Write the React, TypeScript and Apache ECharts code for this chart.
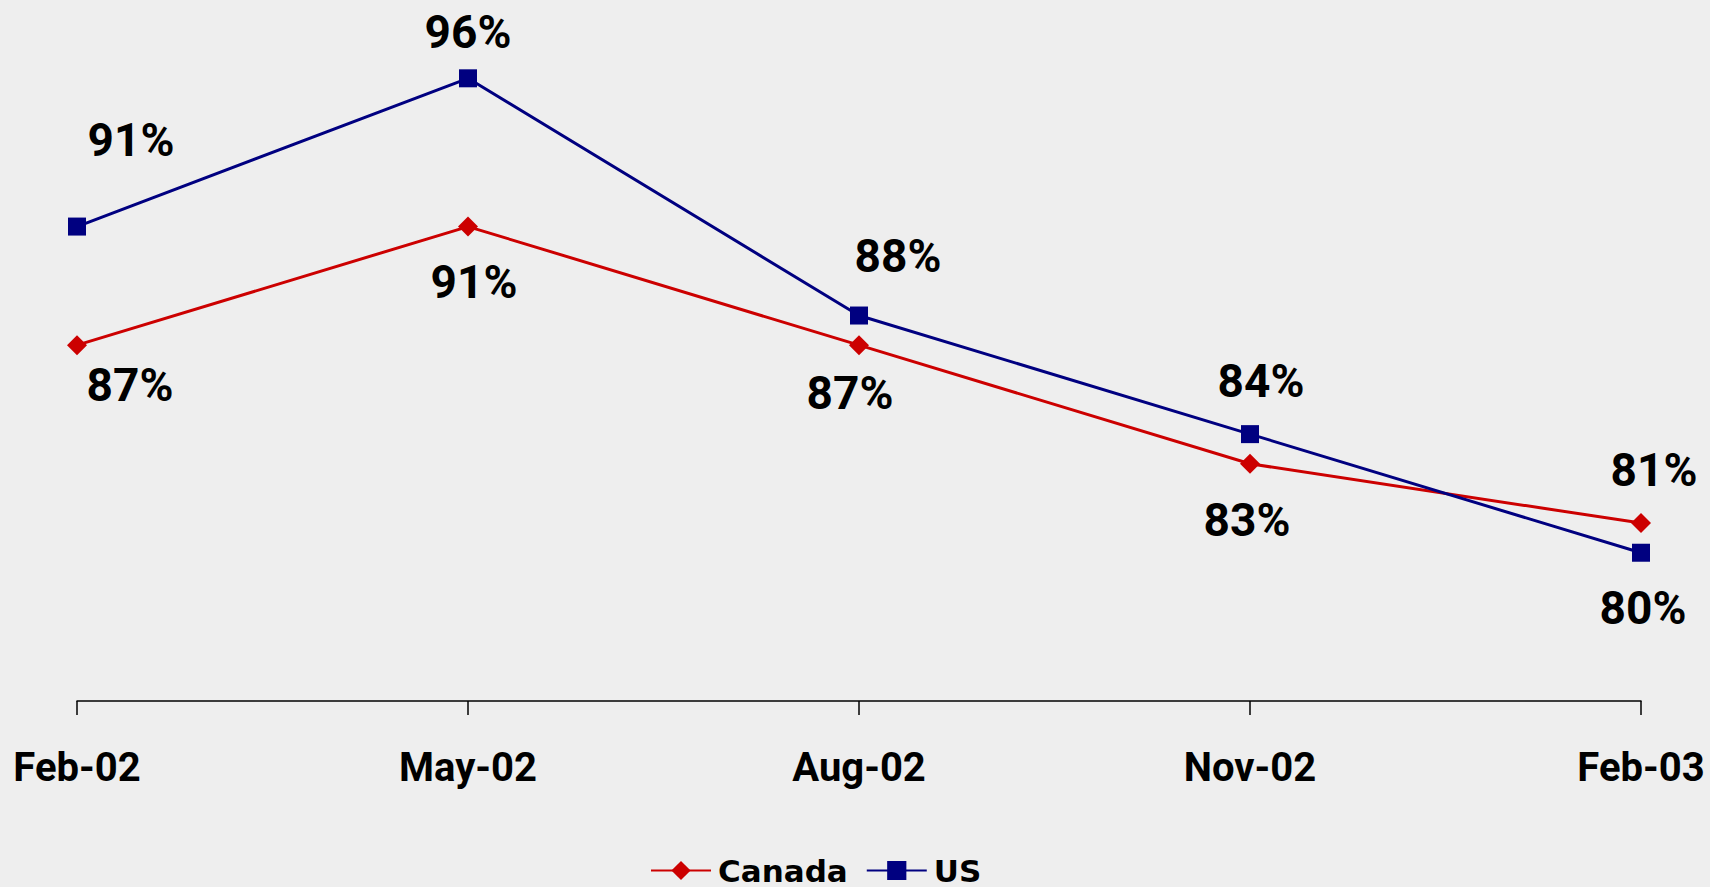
import React, { useEffect, useRef } from "react";
import * as echarts from "echarts";

const categories = ["Feb-02", "May-02", "Aug-02", "Nov-02", "Feb-03"];
const canadaValues = [87, 91, 87, 83, 81];
const usValues = [91, 96, 88, 84, 80];
const yMin = 75;
const yMax = 98;

// label offsets (layout only): [dx, dy] from the point centre
const canadaLabelOffsets = [[53, 40], [6, 55], [-9, 48], [-3, 56], [13, -53]];
const usLabelOffsets = [[54, -87], [0, -46], [39, -60], [11, -53], [2, 55]];

const RED = "#CC0000";
const NAVY = "#000080";
const FONT = "Roboto";

function buildData(values: number[], offsets: number[][]) {
  return values.map((v, i) => ({
    value: v,
    label: { offset: offsets[i] },
  }));
}

export default function App() {
  const ref = useRef<HTMLDivElement>(null);
  useEffect(() => {
    if (!ref.current) return;
    const chart = echarts.init(ref.current, null, { renderer: "svg" });
    const labelStyle = {
      show: true,
      position: "inside",
      formatter: "{c}%",
      color: "#000",
      fontFamily: FONT,
      fontWeight: "bold",
      fontSize: 46,
    };
    chart.setOption({
      animation: false,
      backgroundColor: "#EEEEEE",
      grid: { left: 77, right: 69, top: 19, bottom: 186, containLabel: false },
      xAxis: {
        type: "category",
        data: categories,
        boundaryGap: false,
        axisLine: { show: true, lineStyle: { color: "#000", width: 1.5 } },
        axisTick: { show: true, alignWithLabel: true, length: 14, lineStyle: { color: "#000", width: 1.5 } },
        axisLabel: {
          interval: 0,
          margin: 46,
          color: "#000",
          fontFamily: FONT,
          fontWeight: "bold",
          fontSize: 40,
        },
        splitLine: { show: false },
      },
      yAxis: {
        type: "value",
        min: yMin,
        max: yMax,
        show: false,
        splitLine: { show: false },
      },
      legend: {
        left: 645,
        top: 850,
        itemWidth: 60,
        itemHeight: 24,
        itemGap: 18,
        textStyle: {
          color: "#000",
          fontFamily: "DejaVu Sans",
          fontWeight: "bold",
          fontSize: 31,
          lineHeight: 30,
          padding: [0, 0, 0, 2],
        },
        data: ["Canada", "US"],
      },
      series: [
        {
          name: "Canada",
          type: "line",
          data: buildData(canadaValues, canadaLabelOffsets),
          symbol: "diamond",
          symbolSize: 20,
          lineStyle: { color: RED, width: 3 },
          itemStyle: { color: RED },
          label: labelStyle,
          z: 2,
        },
        {
          name: "US",
          type: "line",
          data: buildData(usValues, usLabelOffsets),
          symbol: "rect",
          symbolSize: 18,
          lineStyle: { color: NAVY, width: 3 },
          itemStyle: { color: NAVY },
          label: labelStyle,
          z: 3,
        },
      ],
    });
    return () => chart.dispose();
  }, []);
  return (
    <div
      ref={ref}
      style={{ position: "absolute", left: 0, top: 0, width: 1710, height: 887 }}
    />
  );
}
